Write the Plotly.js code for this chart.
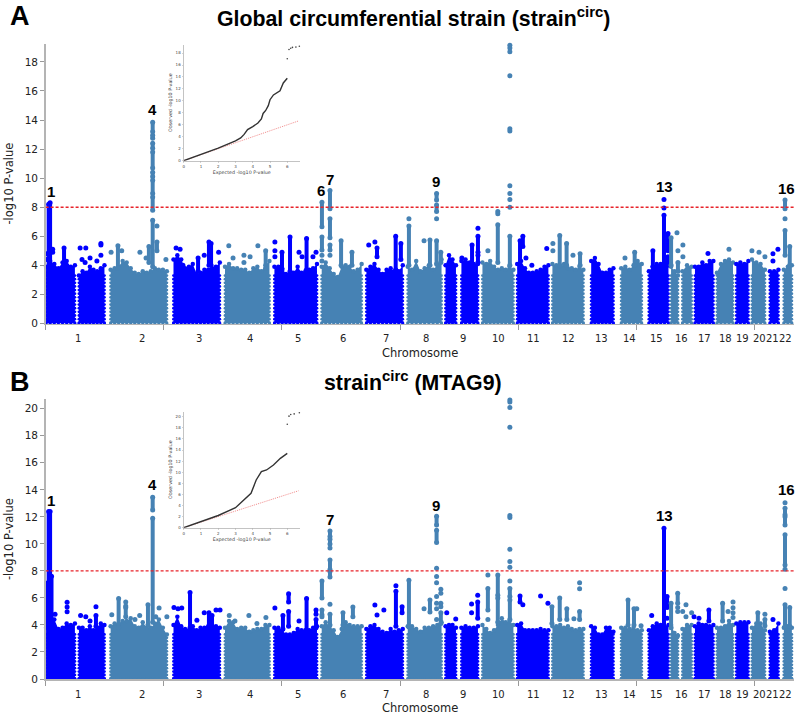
<!DOCTYPE html>
<html>
<head>
<meta charset="utf-8">
<script src="https://cdn.plot.ly/plotly-3.0.1.min.js"></script>
<style>html,body{margin:0;padding:0;background:#fff}</style>
</head>
<body>
<div id="plot" style="width:800px;height:715px"></div>
<script>
// chromosome segments, in Mb along the genome (chr 1, 9 and 16 have a centromere gap)
let segChr   = [1,1,2,3,4,5,6,7,8,9,9,10,11,12,13,14,15,16,16,17,18,19,20,21,22];
let segStart = [2,141,275,541,759,968,1168,1357,1532,1692,1759,1848,1995,2144,2308,2435,2552,2646,2694,2747,2840,2922,2988,3064,3123];
let segEnd   = [124,249,513,737,947,1148,1337,1511,1675,1736,1829,1979,2127,2275,2402,2522,2635,2675,2733,2825,2908,2973,3043,3100,3157];

// upper edge of the dense cloud for each segment
let topsA = [
  [3.9,4.3,4.1,3.8,4.2,4.3,3.9,4.0],[3.3,3.6,3.5,3.9,3.7,3.6,3.8,4.0],
  [3.7,3.8,3.9,4.3,4.2,3.8,3.5,3.4,3.6,3.5,3.6,3.8,3.7,3.7,3.6],
  [4.4,4.7,4.4,3.8,3.9,4.1,3.4,3.5,3.7,3.7,3.8,3.9,4.2],
  [3.9,4.1,3.8,3.8,3.7,3.7,3.5,3.8,3.9,3.6,4.0,4.3],
  [3.9,3.9,3.8,3.4,3.4,3.5,3.9,3.5,3.6,3.7,3.8,4.1],
  [3.9,4.2,3.8,3.4,3.2,3.9,4.0,3.9,3.6,3.7,4.1],
  [3.7,3.9,4.1,3.7,3.4,3.7,3.8,3.6,3.6,4.0],
  [3.9,3.7,4.3,3.6,3.8,4.0,3.7,4.0,4.4],
  [4.0,4.7,4.4,4.0],[4.3,4.4,4.2,4.1,4.1],
  [4.2,4.1,4.3,3.9,3.7,3.8,3.7,3.9,3.7],
  [4.1,4.3,3.8,3.5,3.5,3.6,3.7,3.9,4.0],
  [4.1,4.0,3.9,4.1,3.8,3.8,3.7,3.9,3.7],
  [4.3,4.5,4.1,3.5,3.5,3.7,3.8],
  [3.8,3.9,3.7,4.0,4.3,4.1],
  [3.6,3.9,4.1,4.1,4.2,4.2],
  [3.9,3.6,3.3],[3.6,4.0,3.9],
  [3.9,3.9,4.2,4.0,4.3,4.3],
  [3.5,4.1,4.3,4.4,4.2],
  [4.1,4.2,4.1,4.3],
  [4.4,4.2,4.1,3.7],
  [3.6,3.6,3.7],
  [3.7,3.9,4.0]
];
let topsB = [
  [3.8,5.0,4.4,3.7,3.8,4.1,4.0,4.1],[3.8,3.8,3.6,3.9,3.6,3.8,4.1,4.0],
  [3.9,4.1,4.1,4.3,4.3,4.5,3.9,3.8,4.2,3.8,3.8,4.1,4.4,3.8,3.3],
  [4.0,4.6,3.9,3.7,3.6,3.9,3.6,3.8,3.8,3.9,3.9,3.9,3.8],
  [3.8,4.3,4.2,3.7,3.8,3.8,3.5,3.6,3.7,3.7,4.0,4.0],
  [3.8,3.8,3.6,3.3,3.3,3.4,3.7,3.6,3.6,3.6,3.8,3.9],
  [3.9,4.2,3.9,3.6,3.1,3.7,4.2,4.0,3.9,3.9,3.9],
  [3.7,3.9,4.0,3.7,3.5,3.4,3.7,3.5,3.6,3.7],
  [3.9,3.9,3.7,3.5,3.8,3.8,3.9,4.0,4.2],
  [3.9,4.0,4.0,3.8],[3.8,3.9,3.8,3.8,3.9],
  [4.0,3.7,3.4,3.6,4.0,4.5,4.2,4.3,4.0],
  [4.0,4.1,3.6,3.6,3.6,3.6,3.7,3.6,3.6],
  [3.9,3.9,4.0,3.8,3.9,3.7,3.6,3.7,3.7],
  [3.9,3.8,3.3,3.3,3.8,3.8,3.5],
  [3.8,3.8,3.7,3.8,3.6,3.6],
  [3.6,3.9,4.1,4.0,3.9,4.0],
  [4.0,3.4,3.2],[3.7,4.0,4.0],
  [3.9,4.1,4.0,4.0,3.9,4.0],
  [3.8,3.8,3.9,4.3,4.0],
  [4.1,4.2,4.2,4.2],
  [3.8,4.1,4.1,3.6],
  [3.5,3.6,4.1],
  [3.8,3.9,3.8]
];

// peaks: [chromosome, Mb, then single -log10 p values or [low, high] solid runs]
let peaksA = [
  [1,13,[3.5,8.2]],[1,19,[3.5,8.3]],[1,4,4.8,4.4],[1,30,5.1,4.9],[1,78,[4,5.2]],[1,146,5.2],[1,170,5.2],[1,154,4.4],[1,188,4.5],[1,167,4.2],[1,234,5.5,5.4,4.7],[1,217,4.3],
  [2,277,4.9],[2,306,[3.8,5.35]],[2,322,5.0],[2,453,[13.2,13.85],[12.75,12.95],[12.05,12.4],[10.7,11.8],[10.1,10.4],[8.95,9.85],[7.8,8.7],[3.9,7.1]],
  [2,471,6.7,[5.0,5.6]],[2,437,[4.2,5.3]],[2,399,4.9],[2,425,4.5],[2,509,4.4],
  [3,552,5.2],[3,569,5.1],[3,581,4.0],[3,645,[3.6,4.5]],[3,671,4.7],[3,691,[4,5.6]],[3,700,[4,5.5]],[3,732,4.9],
  [4,775,5.35],[4,793,4.5],[4,839,4.7,4.2],[4,898,5.35],[4,865,4.6],[4,931,[3.8,5.0]],
  [5,970,5.6,5.0,4.6],[5,1000,[3.7,4.9]],[5,1034,[3.6,5.95]],[5,1072,4.9],[5,1085,4.6],[5,1104,[3.7,5.85]],[5,1144,4.9],[5,1131,4.6],
  [6,1169,[6.65,8.35],[5.05,5.95],4.7,4.3],[6,1203,[7.9,9.15],[5.9,7.2],[5.05,5.4],4.7],[6,1250,[4,5.7]],[6,1296,[4,4.9]],
  [7,1367,5.4],[7,1393,5.6],[7,1402,[4.6,5.2]],[7,1481,[3.7,6.0]],[7,1503,[4.4,5.5]],
  [8,1537,[4,6.7],7.2],[8,1601,5.7],[8,1626,[4,5.75]],[8,1654,[8.5,8.95],[7.7,8.15],7.2,[4.1,5.7]],[8,1672,[4.2,4.9]],
  [9,1761,4.5],[9,1804,[4.1,5.4]],[9,1829,6.55,[4.9,6.0],[4.2,4.7]],
  [10,1871,5.0],[10,1913,7.7,7.55,[4.2,6.8]],[10,1964,19.15,18.95,18.7,17.04,13.4,13.25,9.47,8.95,8.53,8.0,[4,6.0]],
  [11,2007,[3.8,5.7]],[11,2019,[5.3,6.0]],[11,2032,4.5],[11,2057,4.0],[11,2120,5.16],
  [12,2146,5.5,5.0],[12,2175,[4,6.05]],[12,2204,[4,5.5]],[12,2231,4.7],[12,2261,[4,4.8]],
  [14,2451,4.5],[14,2492,[4,4.9]],
  [15,2569,[3.9,5.0]],[15,2616,8.53,7.95,[4,7.45]],[15,2633,[5,6.2],[4,4.6]],
  [16,2646,[4,5.9]],[16,2671,6.24],[16,2675,5.0,[3.6,4.2]],[16,2696,5.4,4.6],
  [17,2802,4.82],[18,2891,5.1],
  [20,2988,5.0],[20,3018,4.9],[20,3043,4.6],
  [21,3077,4.8,4.3],[21,3098,5.1],
  [22,3128,[7.9,8.5],7.2,[4.7,6.4]],[22,3148,[4,5.3]]
];
let peaksB = [
  [1,13,[4.5,12.4]],[1,19,[4.5,12.4]],[1,8,[4,7.1]],[1,25,[4,7.6]],[1,4,5.5],[1,40,4.8],[1,91,5.68,5.33,4.98],[1,148,4.7],[1,170,4.6],[1,188,4.3],[1,213,5.35,[3.9,4.7]],
  [2,280,4.75],[2,309,[3.8,5.95]],[2,339,5.7,5.4,[4.6,5.3]],[2,378,4.4],[2,398,4.7],[2,433,[4,5.5]],
  [2,453,[12.5,13.45],[4.2,11.9]],[2,466,4.6],[2,480,5.25],[2,513,4.6],
  [3,543,5.3],[3,560,5.2],[3,576,5.25],[3,611,[3.8,6.4]],[3,640,4.35],[3,671,4.9],[3,691,[3.9,4.9]],[3,704,[3.9,4.7]],[3,721,5.1],[3,738,5.1],
  [4,777,4.7],[4,801,4.3],[4,860,4.7],[4,894,4.1],[4,932,4.55],
  [5,970,5.25],[5,1004,[3.7,4.7]],[5,1028,[5.7,6.3],[3.9,5]],[5,1072,4.3],[5,1104,[3.6,5.95]],[5,1144,[4.8,5.1],[3.8,4.4]],
  [6,1169,[6.0,7.25],[4.75,5.1],4.6],[6,1203,[10.55,10.95],[10.0,10.35],9.7,[8.1,8.8],[7.55,7.95],5.53,[4,4.8]],[6,1258,[4,4.9]],[6,1300,[4.6,5.33]],
  [7,1393,5.47],[7,1402,4.74],[7,1431,5.1],[7,1482,6.9,[3.9,6.5]],[7,1508,[4.9,5.35]],
  [8,1537,[3.85,7.3]],[8,1601,5.2],[8,1626,[4.96,5.85]],[8,1654,[11.4,12.05],[10.1,11.0],8.2,7.58,7.13,6.1,5.6,5.2,4.4],[8,1672,6.64,6.35,[5.35,5.6],[4.1,4.9]],
  [9,1697,4.9],[9,1735,4.44],[9,1802,5.55,4.9],[9,1828,6.2,[4.5,5.7]],
  [10,1871,7.7,[5.1,6.7],4.4],[10,1913,[6.2,7.7],[4.2,6.0]],[10,1964,20.65,20.5,20.1,18.64,12.1,11.95,9.6,8.7,8.27,7.26,[6.1,6.7],[4.4,5.85]],
  [11,2007,[5.7,6.15]],[11,2019,5.5],[11,2094,6.15],[11,2125,5.6],
  [12,2142,[4.1,5.35]],[12,2175,[4.4,6.0]],[12,2205,[4.4,5.2]],[12,2235,4.45],[12,2259,7.13,6.67,[4.4,5]],
  [14,2464,[4,5.85]],[14,2489,[4,5.2]],[14,2501,5.2],[14,2519,3.95],
  [15,2564,4.7],[15,2616,[3.9,11.15]],[15,2629,[5.3,6.1],4.5],
  [16,2646,[3.8,5.6]],[16,2674,[5.6,6.35],5.3,5.0],[16,2695,5.0],[16,2709,5.5,4.6],[16,2733,4.9],
  [17,2743,4.6],[17,2764,4.5],[17,2806,[4.3,5.1]],
  [18,2864,[4.3,5.6]],[18,2887,5.0],[18,2908,5.7,5.27,4.9,4.55],
  [20,3013,[3.9,4.9]],[20,3043,4.8,[3.95,4.4]],
  [21,3077,4.4],
  [22,3128,13.05,[12.15,12.64],[11.4,12.0],[8.44,10.67],8.12,6.7,[3.9,5.5]],[22,3148,[3.9,5.3]]
];

// locus numbers sitting above the peaks
let locusText = ['1','4','6','7','9','10','13','16'];
let locusXA   = [21,454,1165,1203,1653,1968,2618,3134];
let locusYA   = [9.1,14.7,9.17,9.93,9.74,19.9,9.45,9.3];
let locusTextB = ['1','4','7','9','10','13','16'];
let locusXB   = [21,454,1203,1653,1968,2618,3134];
let locusYB   = [13.19,14.37,11.78,12.81,21.56,12.07,14.0];

// chromosome names under the axis
let chrNames = ['1','2','3','4','5','6','7','8','9','10','11','12','13','14','15','16','17','18','19','20','21','22'];
let chrLabelX = [136,407,650,863,1066,1259,1439,1609,1766,1918,2066,2214,2350,2472,2586,2692,2788,2877,2950,3018,3076,3132];

// QQ insets
let qqExpA = [0,1,2,3,3.3,3.5,3.7,4,4.3,4.5,4.6,4.75,4.9,5,5.2,5.58,5.77,6];
let qqObsA = [0,1.05,2.1,3.3,3.8,4.4,5.2,5.7,6.3,7,7.9,8.4,9.2,10.2,11,11.7,13,13.8];
let qqTopExpA = [6,6.1,6.2,6.3,6.5,6.7];
let qqTopObsA = [17.05,18.6,18.8,18.95,19,19.15];
let qqExpB = [0,1,2,3,3.5,3.9,4.2,4.5,4.8,5.2,5.6,6];
let qqObsB = [0,1.1,2.2,3.6,5,6.2,8.6,10.1,10.4,11.3,12.5,13.4];
let qqTopExpB = [6,6.1,6.2,6.4,6.7];
let qqTopObsB = [18.65,20.1,20.4,20.5,20.7];

let BLUE = '#0000ff', STEEL = '#4682b4';
let edgeLevels = [0.05,0.3,0.55,0.8,1.05,1.3,1.55,1.8,2.05,2.3,2.55,2.8,3.05,3.3];
let colorOf = c => (c % 2 ? BLUE : STEEL);
let traces = [];

function addPanel(tops, peaks, xa, ya) {
  segChr.forEach((chr, s) => {
    let n = tops[s].length;
    let xs = tops[s].map((_, i) => segStart[s] + (segEnd[s] - segStart[s]) * i / (n - 1));
    traces.push({
      x: xs, y: tops[s], xaxis: xa, yaxis: ya, type: 'scatter', mode: 'lines+markers',
      fill: 'tozeroy', fillcolor: colorOf(chr),
      line: {width: 0, color: colorOf(chr)},
      marker: {size: 4.5, color: colorOf(chr)},
      cliponaxis: false, hoverinfo: 'skip', showlegend: false
    });
    // loose dots along the sides and bottom of each block
    let ex = [], ey = [];
    edgeLevels.forEach(v => { ex.push(segStart[s], segEnd[s]); ey.push(v, v); });
    xs.forEach(v => { ex.push(v); ey.push(0.02); });
    traces.push({
      x: ex, y: ey, xaxis: xa, yaxis: ya, type: 'scatter', mode: 'markers',
      marker: {size: 2.8, color: colorOf(chr)},
      cliponaxis: false, hoverinfo: 'skip', showlegend: false
    });
  });
  // peak columns, one trace per colour
  [1, 0].forEach(odd => {
    let lx = [], ly = [];
    peaks.filter(p => p[0] % 2 === odd).forEach(p => {
      p.slice(2).forEach(v => {
        if (Array.isArray(v)) { lx.push(p[1], p[1], null); ly.push(v[0], v[1], null); }
        else { lx.push(p[1], null); ly.push(v, null); }
      });
    });
    traces.push({
      x: lx, y: ly, xaxis: xa, yaxis: ya, type: 'scatter', mode: 'lines+markers',
      line: {width: 4, color: odd ? BLUE : STEEL},
      marker: {size: 5, color: odd ? BLUE : STEEL},
      connectgaps: false, cliponaxis: false, hoverinfo: 'skip', showlegend: false
    });
  });
}
addPanel(topsA, peaksA, 'x', 'y');
addPanel(topsB, peaksB, 'x2', 'y2');

function addQQ(ex, ob, tx, ty, xa, ya) {
  traces.push({x: [0, 6.65], y: [0, 6.65], xaxis: xa, yaxis: ya, type: 'scatter', mode: 'lines',
    line: {color: '#f08a8a', width: 1, dash: '1px,1px'}, hoverinfo: 'skip', showlegend: false});
  traces.push({x: ex, y: ob, xaxis: xa, yaxis: ya, type: 'scatter', mode: 'lines',
    line: {color: '#333', width: 1.4}, hoverinfo: 'skip', showlegend: false});
  traces.push({x: tx, y: ty, xaxis: xa, yaxis: ya, type: 'scatter', mode: 'markers',
    marker: {color: '#444', size: 1.6}, cliponaxis: false, hoverinfo: 'skip', showlegend: false});
}
addQQ(qqExpA, qqObsA, qqTopExpA, qqTopObsA, 'x3', 'y3');
addQQ(qqExpB, qqObsB, qqTopExpB, qqTopObsB, 'x4', 'y4');

// pixel positions on the 800x715 page turned into paper fractions
let W = 800, H = 715;
let fx = (a, b) => [a / W, b / W];
let fy = (top, bottom) => [(H - bottom) / H, (H - top) / H];

let mainFont = {family: 'DejaVu Sans, sans-serif', size: 10.5, color: '#222'};
let chrFont = {family: 'DejaVu Sans, sans-serif', size: 10, color: '#222'};
let axisTitleFont = {family: 'DejaVu Sans, sans-serif', size: 11.5, color: '#222'};
function mainX(overlay) {
  return {
    domain: fx(45.6, 794), range: [0, 3166], anchor: overlay, showgrid: false, zeroline: false,
    showline: true, linecolor: '#b4b4b4', linewidth: 1.5,
    tickmode: 'array', tickvals: [0,500,1000,1500,2000,2500,3000], showticklabels: false,
    ticks: 'outside', ticklen: 5, tickcolor: '#999', tickwidth: 1
  };
}
function mainY(overlay, dom, top, vals) {
  return {
    domain: dom, range: [0, top], anchor: overlay, showgrid: false, zeroline: false,
    showline: true, linecolor: '#b4b4b4', linewidth: 1.5,
    tickmode: 'array', tickvals: vals, ticks: 'outside', ticklen: 4, tickcolor: '#999', tickwidth: 1,
    tickfont: mainFont,
    title: {text: '-log10 P-value', font: axisTitleFont, standoff: 8}
  };
}
function insetX(overlay) {
  return {
    domain: fx(183.7, 299.7), range: [0, 6.72], anchor: overlay, showgrid: false, zeroline: false,
    showline: true, linecolor: '#aaa', linewidth: 0.7,
    tickmode: 'array', tickvals: [0,1,2,3,4,5,6], ticks: 'outside', ticklen: 1.5, tickcolor: '#aaa', tickwidth: 0.5,
    tickfont: {family: 'DejaVu Sans, sans-serif', size: 4, color: '#444'},
    title: {text: 'Expected -log10 P-value', font: {family: 'DejaVu Sans, sans-serif', size: 4.8, color: '#444'}, standoff: 2}
  };
}
function insetY(overlay, dom, top, vals) {
  return {
    domain: dom, range: [0, top], anchor: overlay, showgrid: false, zeroline: false,
    showline: true, linecolor: '#aaa', linewidth: 0.7,
    tickmode: 'array', tickvals: vals, ticks: 'outside', ticklen: 1.5, tickcolor: '#aaa', tickwidth: 0.5,
    tickfont: {family: 'DejaVu Sans, sans-serif', size: 4, color: '#444'},
    title: {text: 'Observed -log10 P-value', font: {family: 'DejaVu Sans, sans-serif', size: 4.8, color: '#444'}, standoff: 2}
  };
}

let annotations = [];
let boldFont = size => ({family: 'Liberation Sans, Arial, sans-serif', size: size, color: '#000'});
function paperText(text, px, py, font) {
  annotations.push({text: text, x: px / W, y: (H - py) / H, xref: 'paper', yref: 'paper',
    xanchor: 'center', yanchor: 'middle', showarrow: false, font: font});
}
paperText('<b>A</b>', 19.5, 16, boldFont(27));
paperText('<b>B</b>', 19.5, 382, boldFont(27));
paperText('<b>Global circumferential strain (strain<sup>circ</sup>)</b>', 413, 17.5, boldFont(21.3));
paperText('<b>strain<sup>circ</sup> (MTAG9)</b>', 412.5, 382, boldFont(21.3));
paperText('Chromosome', 419.5, 352.5, axisTitleFont);
paperText('Chromosome', 419.5, 708, axisTitleFont);

locusText.forEach((t, i) => annotations.push({text: '<b>' + t + '</b>', x: locusXA[i], y: locusYA[i], xref: 'x', yref: 'y',
  xanchor: 'center', yanchor: 'middle', showarrow: false, font: boldFont(15)}));
locusTextB.forEach((t, i) => annotations.push({text: '<b>' + t + '</b>', x: locusXB[i], y: locusYB[i], xref: 'x2', yref: 'y2',
  xanchor: 'center', yanchor: 'middle', showarrow: false, font: boldFont(15)}));

chrNames.forEach((t, i) => {
  [338.5, 694].forEach(py => annotations.push({text: t, x: chrLabelX[i], y: (H - py) / H, xref: py < 400 ? 'x' : 'x2', yref: 'paper',
    xanchor: 'center', yanchor: 'middle', showarrow: false, font: chrFont}));
});

let threshold = (xa, ya) => ({type: 'line', xref: xa, yref: ya, x0: 0, x1: 3166, y0: 8, y1: 8, layer: 'above',
  line: {color: '#e8232a', width: 1.4, dash: '3px,2px'}});

let layout = {
  width: W, height: H,
  margin: {l: 0, r: 0, t: 0, b: 0},
  paper_bgcolor: '#fff', plot_bgcolor: 'rgba(0,0,0,0)',
  showlegend: false,
  xaxis: mainX('y'),
  yaxis: mainY('x', fy(43.7, 323.5), 19.25, [0,2,4,6,8,10,12,14,16,18]),
  xaxis2: mainX('y2'),
  yaxis2: mainY('x2', fy(399.3, 679), 20.7, [0,2,4,6,8,10,12,14,16,18,20]),
  xaxis3: insetX('y3'),
  yaxis3: insetY('x3', fy(44.7, 160.7), 19.4, [0,2,4,6,8,10,12,14,16,18]),
  xaxis4: insetX('y4'),
  yaxis4: insetY('x4', fy(411.7, 527.7), 20.9, [0,2,4,6,8,10,12,14,16,18,20]),
  shapes: [threshold('x', 'y'), threshold('x2', 'y2')],
  annotations: annotations
};

Plotly.newPlot('plot', traces, layout, {displayModeBar: false, staticPlot: true});
</script>
</body>
</html>
